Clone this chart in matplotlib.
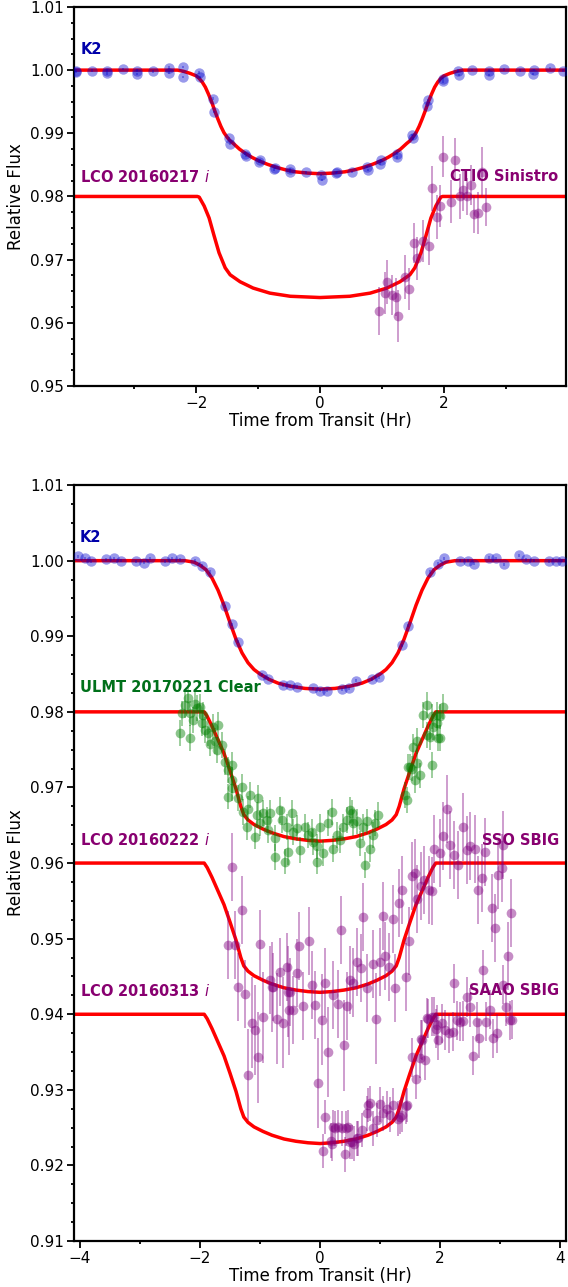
import numpy as np
import matplotlib
matplotlib.use('Agg')
import matplotlib.pyplot as plt
from matplotlib.ticker import MultipleLocator, AutoMinorLocator

# ---------------- top panel data ----------------
k2a_t = [-3.93, -3.93, -3.68, -3.44, -3.44, -3.18, -2.95, -2.95, -2.69, -2.44,
         -2.44, -2.21, -2.21, -1.96, -1.94, -1.72, -1.71, -1.47, -1.46, -1.21,
         -1.20, -0.97, -0.98, -0.73, -0.74, -0.49, -0.48, -0.23, 0.02, 0.03,
         0.27, 0.26, 0.51, 0.76, 0.77, 0.99, 0.97, 1.24, 1.25, 1.49,
         1.50, 1.74, 1.72, 1.99, 1.98, 2.23, 2.24, 2.46, 2.72, 2.73,
         2.97, 3.23, 3.45, 3.44, 3.71, 3.92]
k2a_f = [0.9999, 0.9997, 0.9999, 0.9999, 0.9995, 1.0002, 0.9999, 0.9994, 0.9998, 1.0004,
         0.9996, 1.0005, 0.9989, 0.9996, 0.9989, 0.9955, 0.9934, 0.9892, 0.9883, 0.9868,
         0.9864, 0.9858, 0.9855, 0.9845, 0.9843, 0.9839, 0.9843, 0.9838, 0.9834, 0.9826,
         0.9839, 0.9837, 0.9839, 0.9847, 0.9842, 0.9857, 0.9852, 0.9868, 0.9862, 0.9897,
         0.9892, 0.9953, 0.9943, 0.9986, 0.9982, 0.9999, 0.9992, 1.0000, 0.9999, 0.9992,
         1.0001, 0.9999, 1.0000, 0.9994, 1.0003, 0.9999]

ctio_t = [0.96, 1.05, 1.08, 1.16, 1.23, 1.26, 1.37, 1.44, 1.51, 1.56,
          1.66, 1.76, 1.81, 1.88, 1.94, 1.99, 2.12, 2.18, 2.26, 2.30,
          2.38, 2.43, 2.49, 2.55, 2.61, 2.68]
ctio_f = [0.9618, 0.9647, 0.9665, 0.9644, 0.9641, 0.9611, 0.9673, 0.9653, 0.9726, 0.9702,
          0.9729, 0.9722, 0.9813, 0.9767, 0.9785, 0.9863, 0.9792, 0.9858, 0.9800, 0.9810,
          0.9800, 0.9818, 0.9772, 0.9774, 0.9839, 0.9783]
ctio_e = [0.0038, 0.0033, 0.0035, 0.0032, 0.0030, 0.0041, 0.0035, 0.0033, 0.0032, 0.0034,
          0.0033, 0.0030, 0.0036, 0.0035, 0.0033, 0.0032, 0.0034, 0.0034, 0.0035, 0.0033,
          0.0030, 0.0032, 0.0030, 0.0033, 0.0040, 0.0030]

# model curves, top panel
moda_k2_t = [-3.97, -2.30, -2.20, -2.10, -2.00, -1.95, -1.90, -1.85, -1.80, -1.75, -1.70,
             -1.65, -1.60, -1.55, -1.50, -1.45, -1.40, -1.30, -1.20, -1.10, -1.00, -0.85,
             -0.70, -0.55, -0.40, -0.20, 0.00, 0.20, 0.40, 0.55, 0.70, 0.85, 1.00, 1.10,
             1.20, 1.30, 1.40, 1.45, 1.50, 1.55, 1.60, 1.65, 1.70, 1.75, 1.80, 1.85, 1.90,
             1.95, 2.00, 2.10, 2.20, 2.30, 3.97]
moda_k2_f = [1.0000, 1.0000, 0.9998, 0.9995, 0.9991, 0.9987, 0.9981, 0.9973, 0.9962, 0.9950, 0.9936,
             0.9923, 0.9911, 0.9901, 0.9894, 0.9888, 0.9884, 0.9875, 0.9868, 0.9862, 0.9857, 0.9851,
             0.9846, 0.9842, 0.9839, 0.9837, 0.9836, 0.9837, 0.9839, 0.9842, 0.9846, 0.9851, 0.9857, 0.9862,
             0.9868, 0.9875, 0.9884, 0.9888, 0.9894, 0.9901, 0.9911, 0.9923, 0.9936, 0.9950, 0.9962, 0.9973, 0.9981,
             0.9987, 0.9991, 0.9995, 0.9998, 1.0000, 1.0000]
moda_lco_t = [-3.97, -1.98, -1.95, -1.87, -1.79, -1.71, -1.63, -1.53, -1.45, -1.29, -1.08,
              -0.81, -0.48, 0.00, 0.48, 0.81, 1.08, 1.29, 1.45, 1.53, 1.63, 1.71, 1.79,
              1.87, 1.95, 1.98, 3.97]
moda_lco_f = [0.9800, 0.9800, 0.9799, 0.9785, 0.9766, 0.9738, 0.9711, 0.9687, 0.9676, 0.9665, 0.9655,
              0.9647, 0.9642, 0.9640, 0.9642, 0.9647, 0.9655, 0.9665, 0.9676, 0.9687, 0.9711, 0.9738, 0.9766,
              0.9785, 0.9799, 0.9800, 0.9800]

# ---------------- bottom panel data ----------------
k2b_t = [-4.04, -3.92, -3.81, -3.57, -3.44, -3.32, -3.07, -2.94, -2.83, -2.58,
         -2.46, -2.33, -2.08, -1.97, -1.84, -1.58, -1.47, -1.36, -0.97, -0.86,
         -0.61, -0.50, -0.38, -0.12, 0.00, 0.11, 0.36, 0.49, 0.60, 0.86,
         0.99, 1.36, 1.47, 1.84, 1.96, 2.07, 2.33, 2.46, 2.57, 2.82,
         2.93, 3.06, 3.32, 3.43, 3.56, 3.81, 3.93, 4.04]
k2b_f = [1.0006, 1.0003, 0.9999, 1.0002, 1.0003, 1.0000, 0.9999, 0.9997, 1.0003, 0.9999,
         1.0003, 1.0002, 1.0000, 0.9993, 0.9985, 0.9940, 0.9916, 0.9893, 0.9849, 0.9844,
         0.9835, 0.9835, 0.9833, 0.9831, 0.9828, 0.9828, 0.9830, 0.9831, 0.9841, 0.9843,
         0.9846, 0.9888, 0.9914, 0.9985, 0.9996, 1.0003, 1.0000, 1.0000, 0.9996, 1.0004,
         1.0003, 0.9995, 1.0007, 1.0002, 1.0000, 0.9999, 1.0000, 1.0000]

ulmt = [(-2.333, 0.9772), (-2.306, 0.9798), (-2.250, 0.9809), (-2.194, 0.9818), (-2.167, 0.9798),
        (-2.167, 0.9765), (-2.111, 0.9789), (-2.083, 0.9811), (-2.056, 0.9805), (-2.000, 0.9807),
        (-1.972, 0.9785), (-1.944, 0.9796), (-1.917, 0.9776), (-1.861, 0.9772), (-1.833, 0.9758),
        (-1.778, 0.9780), (-1.750, 0.9761), (-1.722, 0.9750), (-1.694, 0.9783), (-1.639, 0.9756),
        (-1.583, 0.9734), (-1.528, 0.9723), (-1.528, 0.9688), (-1.472, 0.9730), (-1.472, 0.9710),
        (-1.472, 0.9699), (-1.361, 0.9686), (-1.306, 0.9701), (-1.278, 0.9668), (-1.222, 0.9648),
        (-1.194, 0.9672), (-1.167, 0.9690), (-1.083, 0.9635), (-1.056, 0.9664), (-1.028, 0.9686),
        (-1.000, 0.9653), (-0.944, 0.9666), (-0.889, 0.9657), (-0.861, 0.9644), (-0.833, 0.9666),
        (-0.750, 0.9633), (-0.750, 0.9608), (-0.667, 0.9670), (-0.639, 0.9657), (-0.583, 0.9602),
        (-0.556, 0.9648), (-0.528, 0.9615), (-0.472, 0.9666), (-0.444, 0.9641), (-0.389, 0.9646),
        (-0.333, 0.9617), (-0.250, 0.9648), (-0.194, 0.9637), (-0.139, 0.9641), (-0.111, 0.9628),
        (-0.056, 0.9622), (-0.056, 0.9602), (0.000, 0.9648), (0.056, 0.9613), (0.139, 0.9653),
        (0.194, 0.9668), (0.222, 0.9619), (0.278, 0.9637), (0.333, 0.9630), (0.389, 0.9648),
        (0.444, 0.9657), (0.500, 0.9670), (0.528, 0.9666), (0.556, 0.9653), (0.611, 0.9655),
        (0.667, 0.9626), (0.722, 0.9648), (0.750, 0.9597), (0.778, 0.9655), (0.833, 0.9619),
        (0.889, 0.9637), (0.917, 0.9653), (0.972, 0.9664), (1.417, 0.9690), (1.444, 0.9683),
        (1.472, 0.9727), (1.500, 0.9727), (1.528, 0.9725), (1.556, 0.9754), (1.583, 0.9710),
        (1.611, 0.9732), (1.611, 0.9761), (1.667, 0.9716), (1.722, 0.9796), (1.778, 0.9809),
        (1.778, 0.9769), (1.833, 0.9767), (1.861, 0.9730), (1.861, 0.9794), (1.889, 0.9780),
        (1.944, 0.9796), (1.944, 0.9785), (1.972, 0.9765), (2.000, 0.9794), (2.000, 0.9765),
        (2.056, 0.9807)]
ulmt_err = 0.0017

sso = [(-1.472, 0.9595), (-1.528, 0.9492), (-1.417, 0.9492), (-1.306, 0.9538), (-1.361, 0.9436),
       (-1.250, 0.9427), (-1.000, 0.9493), (-0.833, 0.9445), (-0.778, 0.9436), (-0.667, 0.9456),
       (-0.556, 0.9463), (-0.500, 0.9430), (-0.444, 0.9405), (-0.389, 0.9454), (-0.344, 0.9490),
       (-0.278, 0.9411), (-0.178, 0.9497), (-0.139, 0.9439), (-0.083, 0.9412), (0.083, 0.9442),
       (0.222, 0.9425), (0.294, 0.9413), (0.344, 0.9512), (0.456, 0.9411), (0.500, 0.9445),
       (0.556, 0.9442), (0.611, 0.9469), (0.678, 0.9461), (0.722, 0.9529), (0.778, 0.9435),
       (0.878, 0.9466), (1.000, 0.9469), (1.044, 0.9530), (1.083, 0.9477), (1.150, 0.9463),
       (1.211, 0.9526), (1.256, 0.9435), (1.322, 0.9547), (1.361, 0.9564), (1.433, 0.9449),
       (1.483, 0.9497), (1.533, 0.9583), (1.583, 0.9587), (1.622, 0.9552), (1.678, 0.9570),
       (1.733, 0.9578), (1.822, 0.9564), (1.861, 0.9563), (1.900, 0.9619), (2.000, 0.9613),
       (2.056, 0.9636), (2.111, 0.9672), (2.167, 0.9624), (2.239, 0.9611), (2.306, 0.9597),
       (2.389, 0.9648), (2.444, 0.9617), (2.500, 0.9622), (2.583, 0.9618), (2.639, 0.9564),
       (2.694, 0.9580), (2.750, 0.9614), (2.861, 0.9540), (2.917, 0.9514), (2.972, 0.9584),
       (3.028, 0.9593), (3.056, 0.9624), (3.128, 0.9477), (3.183, 0.9534)]
sso_err = 0.0045

saao = [(-1.194, 0.9320), (-1.139, 0.9389), (-1.083, 0.9379), (-1.028, 0.9343), (-0.944, 0.9396),
        (-0.806, 0.9436), (-0.722, 0.9394), (-0.611, 0.9389), (-0.528, 0.9430), (-0.511, 0.9406),
        (-0.028, 0.9309), (0.028, 0.9393), (0.128, 0.9350), (0.400, 0.9359), (0.928, 0.9394),
        (0.056, 0.9219), (0.083, 0.9264), (0.178, 0.9233), (0.194, 0.9229), (0.222, 0.9251),
        (0.250, 0.9249), (0.306, 0.9251), (0.360, 0.9249), (0.417, 0.9215), (0.440, 0.9249),
        (0.472, 0.9251), (0.500, 0.9231), (0.528, 0.9231), (0.567, 0.9229), (0.611, 0.9236),
        (0.639, 0.9236), (0.694, 0.9247), (0.778, 0.9269), (0.806, 0.9280), (0.833, 0.9282),
        (0.889, 0.9249), (0.944, 0.9260), (1.000, 0.9281), (1.056, 0.9269), (1.111, 0.9275),
        (1.167, 0.9267), (1.222, 0.9280), (1.306, 0.9262), (1.333, 0.9264), (1.361, 0.9267),
        (1.433, 0.9278), (1.444, 0.9280), (1.528, 0.9343), (1.600, 0.9314), (1.667, 0.9342),
        (1.678, 0.9367), (1.694, 0.9366), (1.750, 0.9339), (1.778, 0.9395), (1.806, 0.9394),
        (1.861, 0.9397), (1.900, 0.9397), (1.933, 0.9381), (1.944, 0.9386), (1.972, 0.9366),
        (2.028, 0.9388), (2.083, 0.9379), (2.156, 0.9375), (2.220, 0.9377), (2.233, 0.9441),
        (2.278, 0.9392), (2.333, 0.9390), (2.389, 0.9391), (2.444, 0.9423), (2.500, 0.9409),
        (2.556, 0.9345), (2.611, 0.9390), (2.656, 0.9368), (2.722, 0.9459), (2.767, 0.9390),
        (2.833, 0.9406), (2.889, 0.9368), (2.944, 0.9375), (3.044, 0.9439), (3.100, 0.9410),
        (3.167, 0.9392), (3.200, 0.9393)]
saao_err = [0.006] * 15 + [0.0023] * 32 + [0.0026] * 35

# model curves, bottom panel
modb_k2_t = [-4.10, -2.25, -2.10, -2.00, -1.90, -1.80, -1.70, -1.60, -1.50, -1.40, -1.30,
             -1.20, -1.10, -1.00, -0.85, -0.70, -0.50, -0.25, 0.00, 0.25, 0.50, 0.70, 0.85,
             1.00, 1.10, 1.20, 1.30, 1.40, 1.50, 1.60, 1.70, 1.80, 1.90, 2.00, 2.10, 2.25, 4.10]
modb_k2_f = [1.0000, 1.0000, 0.9998, 0.9994, 0.9988, 0.9977, 0.9961, 0.9941, 0.9918, 0.9896, 0.9878,
             0.9865, 0.9856, 0.9850, 0.9843, 0.9838, 0.9834, 0.9831, 0.9830, 0.9831, 0.9834, 0.9838, 0.9843,
             0.9850, 0.9856, 0.9865, 0.9878, 0.9896, 0.9918, 0.9941, 0.9961, 0.9977, 0.9988, 0.9994, 0.9998, 1.0000, 1.0000]
# ground-based model shape (depth relative to each dataset's offset)
modb_gb_t = [-4.10, -1.93, -1.88, -1.80, -1.70, -1.60, -1.50, -1.40, -1.32, -1.27, -1.20,
             -1.10, -0.95, -0.80, -0.60, -0.40, -0.20, 0.00, 0.20, 0.40, 0.60, 0.80, 0.95,
             1.10, 1.20, 1.27, 1.32, 1.40, 1.50, 1.60, 1.70, 1.80, 1.88, 1.93, 4.10]
modb_gb_d = [0.0, 0.0, -0.0006, -0.0019, -0.0037, -0.0055, -0.0078, -0.0102, -0.0125, -0.0136, -0.0143,
             -0.0149, -0.0155, -0.0160, -0.0165, -0.0168, -0.0170, -0.0171, -0.0170, -0.0168, -0.0165, -0.0160, -0.0155,
             -0.0149, -0.0143, -0.0136, -0.0125, -0.0102, -0.0078, -0.0055, -0.0037, -0.0019, -0.0006, 0.0, 0.0]
gb_offsets = [0.98, 0.96, 0.94]

blue = 'mediumblue'
purple = 'purple'
green = 'green'
txt_purple = '#880070'
txt_green = '#00701a'
txt_blue = '#0000aa'

plt.rcParams['font.family'] = 'DejaVu Sans'
fig = plt.figure(figsize=(5.68, 12.87), dpi=100)
ax1 = fig.add_axes([0.1303, 0.7001, 0.8662, 0.2945])
ax2 = fig.add_axes([0.1303, 0.0357, 0.8662, 0.5874])


def pts(ax, t, f, e, c, ms=7, a=0.4):
    ax.errorbar(t, f, yerr=e, fmt='o', color=c, ms=ms, mew=0, alpha=a,
                elinewidth=1.2, capsize=0, zorder=3)


# top panel
ax1.plot(moda_k2_t, moda_k2_f, color='red', lw=2.5, zorder=2)
ax1.plot(moda_lco_t, moda_lco_f, color='red', lw=2.5, zorder=2)
pts(ax1, k2a_t, k2a_f, 0.0002, blue, ms=7.5)
pts(ax1, ctio_t, ctio_f, ctio_e, purple, ms=7, a=0.45)
ax1.text(-3.87, 1.0032, 'K2', color=txt_blue, fontsize=10.5, fontweight='bold', va='center')
ax1.text(-3.87, 0.9831, 'LCO 20160217 $i$', color=txt_purple, fontsize=10.5,
         fontweight='bold', va='center')
ax1.text(3.85, 0.9831, 'CTIO Sinistro', color=txt_purple, fontsize=10.5,
         fontweight='bold', va='center', ha='right')
ax1.set_xlim(-3.97, 3.97)
ax1.set_ylim(0.95, 1.01)

# bottom panel
ax2.plot(modb_k2_t, modb_k2_f, color='red', lw=2.5, zorder=2)
for off in gb_offsets:
    ax2.plot(modb_gb_t, np.array(modb_gb_d) + off, color='red', lw=2.5, zorder=2)
pts(ax2, k2b_t, k2b_f, 0.0002, blue, ms=7.5)
u = np.array(ulmt).T
pts(ax2, u[0], u[1], ulmt_err, green, ms=7, a=0.45)
s = np.array(sso).T
pts(ax2, s[0], s[1], sso_err, purple, ms=7, a=0.45)
w = np.array(saao).T
pts(ax2, w[0], w[1], saao_err, purple, ms=7, a=0.45)
ax2.text(-4.0, 1.0031, 'K2', color=txt_blue, fontsize=10.5, fontweight='bold', va='center')
ax2.text(-4.0, 0.9832, 'ULMT 20170221 Clear', color=txt_green, fontsize=10.5,
         fontweight='bold', va='center')
ax2.text(-4.0, 0.9630, 'LCO 20160222 $i$', color=txt_purple, fontsize=10.5,
         fontweight='bold', va='center')
ax2.text(3.98, 0.9630, 'SSO SBIG', color=txt_purple, fontsize=10.5,
         fontweight='bold', va='center', ha='right')
ax2.text(-4.0, 0.9431, 'LCO 20160313 $i$', color=txt_purple, fontsize=10.5,
         fontweight='bold', va='center')
ax2.text(3.98, 0.9431, 'SAAO SBIG', color=txt_purple, fontsize=10.5,
         fontweight='bold', va='center', ha='right')
ax2.set_xlim(-4.1, 4.1)
ax2.set_ylim(0.91, 1.01)

for ax in (ax1, ax2):
    ax.xaxis.set_major_locator(MultipleLocator(2))
    ax.xaxis.set_minor_locator(MultipleLocator(1))
    ax.yaxis.set_major_locator(MultipleLocator(0.01))
    ax.yaxis.set_minor_locator(AutoMinorLocator(4))
    ax.yaxis.set_major_formatter(plt.FormatStrFormatter('%.2f'))
    ax.tick_params(which='both', direction='out', top=False, right=False,
                   labelsize=11, width=1.3, pad=2)
    ax.tick_params(which='major', length=5)
    ax.tick_params(which='minor', length=2.5)
    for sp in ax.spines.values():
        sp.set_linewidth(1.6)
    ax.set_xlabel('Time from Transit (Hr)', fontsize=12, labelpad=1)
    ax.set_ylabel('Relative Flux', fontsize=12)

fig.savefig('out.png', dpi=100)
